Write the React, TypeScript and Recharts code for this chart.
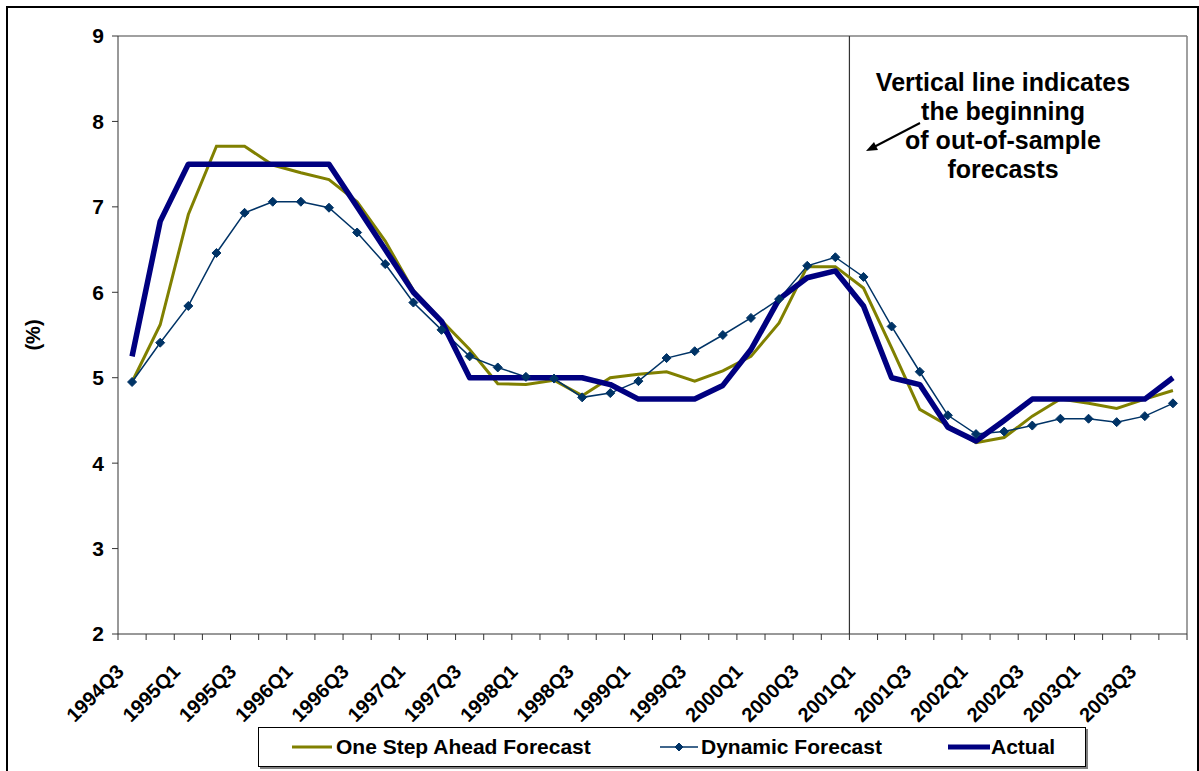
import { LineChart, Line, XAxis, YAxis, ReferenceLine } from 'recharts';

const FONT = '"Liberation Sans", Arial, sans-serif';
const OLIVE = '#808000';
const DYN = '#003366';
const NAVY = '#000080';

const quarters = [
	'1994Q3', '1994Q4',
	'1995Q1', '1995Q2', '1995Q3', '1995Q4',
	'1996Q1', '1996Q2', '1996Q3', '1996Q4',
	'1997Q1', '1997Q2', '1997Q3', '1997Q4',
	'1998Q1', '1998Q2', '1998Q3', '1998Q4',
	'1999Q1', '1999Q2', '1999Q3', '1999Q4',
	'2000Q1', '2000Q2', '2000Q3', '2000Q4',
	'2001Q1', '2001Q2', '2001Q3', '2001Q4',
	'2002Q1', '2002Q2', '2002Q3', '2002Q4',
	'2003Q1', '2003Q2', '2003Q3', '2003Q4',
];

const oneStepAhead = [
	4.95, 5.62, 6.91, 7.71, 7.71, 7.49, 7.4, 7.32, 7.06, 6.6,
	6.02, 5.67, 5.33, 4.93, 4.92, 4.97, 4.79, 5.0, 5.04, 5.07,
	4.96, 5.08, 5.25, 5.64, 6.3, 6.3, 6.05, 5.35, 4.63, 4.44,
	4.24, 4.3, 4.55, 4.75, 4.7, 4.64, 4.75, 4.85,
];

const dynamicForecast = [
	4.95, 5.41, 5.84, 6.46, 6.93, 7.06, 7.06, 6.99, 6.7, 6.33,
	5.88, 5.56, 5.25, 5.12, 5.01, 4.99, 4.77, 4.82, 4.96, 5.23,
	5.31, 5.5, 5.7, 5.92, 6.31, 6.41, 6.18, 5.6, 5.07, 4.56,
	4.34, 4.37, 4.44, 4.52, 4.52, 4.48, 4.55, 4.7,
];

const actual = [
	5.25, 6.83, 7.5, 7.5, 7.5, 7.5, 7.5, 7.5, 7.0, 6.5,
	6.0, 5.66, 5.0, 5.0, 5.0, 5.0, 5.0, 4.92, 4.75, 4.75,
	4.75, 4.91, 5.33, 5.92, 6.17, 6.25, 5.84, 5.0, 4.92, 4.42,
	4.26, 4.5, 4.75, 4.75, 4.75, 4.75, 4.75, 5.0,
];

const yTicks = [2, 3, 4, 5, 6, 7, 8, 9];
const outOfSampleStart = '2001Q1';
const noteLines = ['Vertical line indicates', 'the beginning', 'of out-of-sample', 'forecasts'];

// points sit in the middle of each quarter's slot, ticks on the slot edges
const data = quarters.map((q, i) => ({
	pos: i + 0.5,
	quarter: q,
	oneStep: oneStepAhead[i],
	dynamic: dynamicForecast[i],
	actual: actual[i],
}));
const xTicks = Array.from({ length: quarters.length + 1 }, (_, i) => i);

function Diamond({ cx, cy, size = 4.5 }: { cx?: number; cy?: number; size?: number }) {
	if (cx == null || cy == null) return null;
	return (
		<polygon
			points={`${cx},${cy - size} ${cx + size},${cy} ${cx},${cy + size} ${cx - size},${cy}`}
			fill={DYN}
			stroke={DYN}
		/>
	);
}

function QuarterTick({ x, y, payload }: any) {
	const i = payload.value;
	if (i % 2 !== 0 || i >= quarters.length) return null;
	const ax = x + 7;
	const ay = y + 31;
	return (
		<text
			x={ax}
			y={ay}
			transform={`rotate(-45, ${ax}, ${ay})`}
			textAnchor="end"
			fontFamily={FONT}
			fontWeight="bold"
			fontSize={20}
			fill="#000"
		>
			{quarters[i]}
		</text>
	);
}

function LegendBox() {
	const item = { position: 'absolute' as const, top: 0, height: 38, display: 'flex', alignItems: 'center' };
	return (
		<div
			style={{
				position: 'absolute',
				left: 258,
				top: 727,
				width: 826,
				height: 38,
				border: '1px solid #000',
				boxShadow: '2px 2px 0 #808080',
				background: '#fff',
				fontFamily: FONT,
				fontWeight: 'bold',
				fontSize: 21,
			}}
		>
			<div style={{ ...item, left: 33 }}>
				<svg width={40} height={10}>
					<line x1={0} y1={5} x2={40} y2={5} stroke={OLIVE} strokeWidth={3} />
				</svg>
				<span style={{ marginLeft: 4 }}>One Step Ahead Forecast</span>
			</div>
			<div style={{ ...item, left: 401 }}>
				<svg width={38} height={12}>
					<line x1={0} y1={6} x2={38} y2={6} stroke={DYN} strokeWidth={1.5} />
					<Diamond cx={19} cy={6} size={4} />
				</svg>
				<span style={{ marginLeft: 3 }}>Dynamic Forecast</span>
			</div>
			<div style={{ ...item, left: 689 }}>
				<svg width={42} height={10}>
					<line x1={0} y1={5} x2={42} y2={5} stroke={NAVY} strokeWidth={5} />
				</svg>
				<span style={{ marginLeft: 1 }}>Actual</span>
			</div>
		</div>
	);
}

export default function App() {
	const startIdx = quarters.indexOf(outOfSampleStart);
	return (
		<div
			style={{
				position: 'absolute',
				left: 0,
				top: 0,
				width: 1199,
				height: 771,
				overflow: 'hidden',
				background: '#fff',
			}}
		>
			<div
				style={{
					position: 'absolute',
					left: 6,
					top: 6,
					width: 1189,
					height: 800,
					border: '2px solid #000',
				}}
			/>
			<div style={{ position: 'absolute', left: 0, top: 0 }}>
				<LineChart
					width={1199}
					height={771}
					data={data}
					margin={{ top: 36, right: 12, bottom: 47, left: 58 }}
				>
					<XAxis
						dataKey="pos"
						type="number"
						domain={[0, quarters.length]}
						ticks={xTicks}
						interval={0}
						height={90}
						stroke="#333"
						tickLine={{ stroke: '#333' }}
						tick={<QuarterTick />}
						allowDataOverflow
					/>
					<YAxis
						domain={[2, 9]}
						ticks={yTicks}
						width={60}
						stroke="#333"
						tickMargin={8}
						tick={{ fontFamily: FONT, fontWeight: 'bold', fontSize: 21, fill: '#000' }}
						label={{
							content: () => (
								<text
									x={33}
									y={335}
									transform="rotate(-90, 33, 335)"
									textAnchor="middle"
									dominantBaseline="central"
									fontFamily={FONT}
									fontWeight="bold"
									fontSize={20}
									fill="#000"
								>
									(%)
								</text>
							),
						}}
					/>
					<ReferenceLine y={9} stroke="#808080" strokeWidth={1.5} />
					<ReferenceLine x={quarters.length} stroke="#808080" strokeWidth={1.5} />
					<ReferenceLine x={startIdx} stroke="#333" strokeWidth={1.2} />
					<Line
						dataKey="oneStep"
						stroke={OLIVE}
						strokeWidth={3}
						dot={false}
						isAnimationActive={false}
					/>
					<Line
						dataKey="dynamic"
						stroke={DYN}
						strokeWidth={1.5}
						dot={<Diamond />}
						isAnimationActive={false}
					/>
					<Line
						dataKey="actual"
						stroke={NAVY}
						strokeWidth={5.5}
						strokeLinejoin="round"
						dot={false}
						isAnimationActive={false}
					/>
				</LineChart>
			</div>
			<div
				style={{
					position: 'absolute',
					left: 853,
					top: 68,
					width: 300,
					textAlign: 'center',
					fontFamily: FONT,
					fontWeight: 'bold',
					fontSize: 25,
					lineHeight: '29px',
					color: '#000',
				}}
			>
				{noteLines.map((l) => (
					<div key={l}>{l}</div>
				))}
			</div>
			<svg style={{ position: 'absolute', left: 0, top: 0 }} width={1199} height={771}>
				<line x1={920} y1={123} x2={872} y2={148} stroke="#000" strokeWidth={2} />
				<polygon points="866,151 874,142 878,150" fill="#000" />
			</svg>
			<LegendBox />
		</div>
	);
}
